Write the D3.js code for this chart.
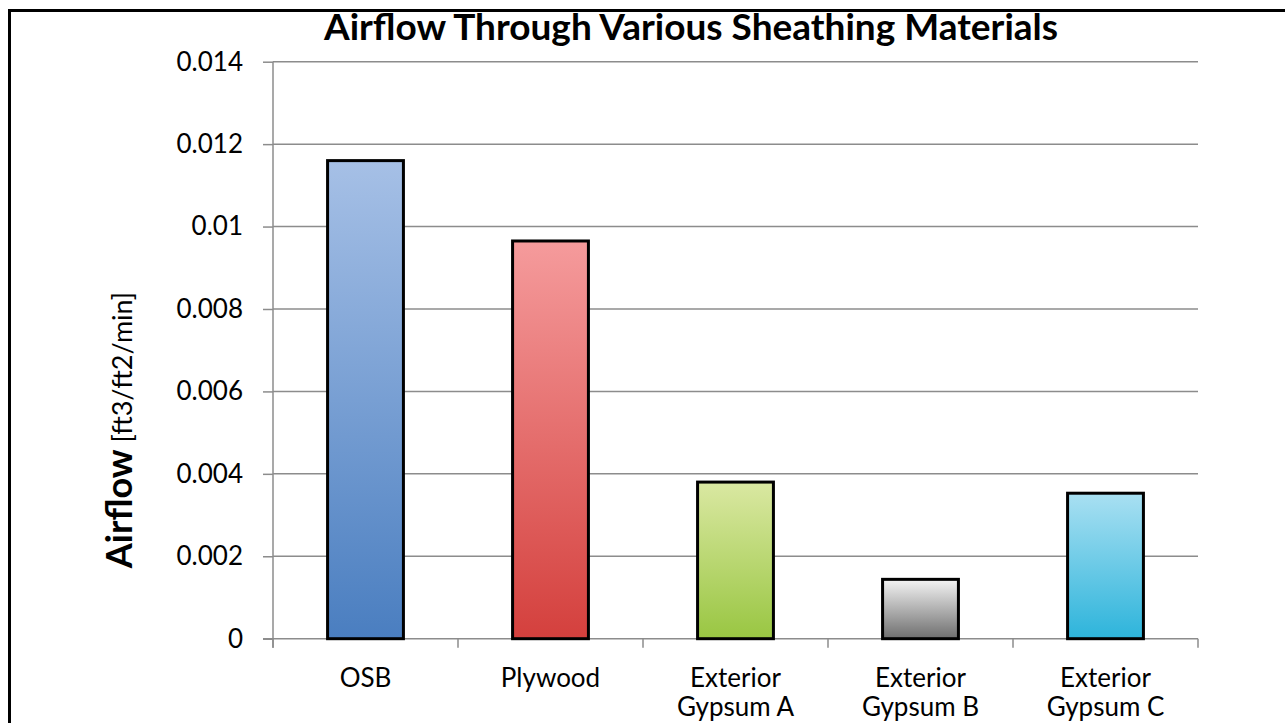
<!DOCTYPE html>
<html>
<head>
<meta charset="utf-8">
<script src="https://cdn.jsdelivr.net/npm/d3@7"></script>
<style>
  body { margin: 0; background: #fff; }
  svg { display: block; font-family: Lato, "Open Sans", sans-serif; }
</style>
</head>
<body>
<div class="chart"></div>
<script>
// chart data
var categories = ["OSB", "Plywood", "Exterior Gypsum A", "Exterior Gypsum B", "Exterior Gypsum C"];
var airflow = [0.0116, 0.00965, 0.0038, 0.00144, 0.00353];
var yTicks = [0, 0.002, 0.004, 0.006, 0.008, 0.01, 0.012, 0.014];
var gradTop = ["#a6c0e6", "#f59b9c", "#dae8a2", "#f4f4f4", "#a9e0f2"];
var gradBottom = ["#4a7ec0", "#d4403d", "#99c642", "#6e6e6e", "#2db4db"];

var svgWidth = 1285;
var svgHeight = 723;
var margin = { top: 61.7, right: 87, bottom: 84.3, left: 273 };
var width = svgWidth - margin.left - margin.right;
var height = svgHeight - margin.top - margin.bottom;

var svg = d3.select(".chart")
  .append("svg")
  .attr("width", svgWidth)
  .attr("height", svgHeight);

// outer frame
svg.append("rect")
  .attr("x", 9.5).attr("y", 10.5)
  .attr("width", 1300).attr("height", 740)
  .attr("fill", "none")
  .attr("stroke", "#000")
  .attr("stroke-width", 3);

var defs = svg.append("defs");
categories.forEach(function(c, i) {
  var g = defs.append("linearGradient")
    .attr("id", "grad" + i)
    .attr("x1", 0).attr("y1", 0).attr("x2", 0).attr("y2", 1);
  g.append("stop").attr("offset", "0%").attr("stop-color", gradTop[i]);
  g.append("stop").attr("offset", "100%").attr("stop-color", gradBottom[i]);
});

var chart = svg.append("g")
  .attr("transform", `translate(${margin.left}, ${margin.top})`);

var xScale = d3.scaleBand().domain(categories).range([0, width]).paddingInner(0.59).paddingOuter(0.295);
var yScale = d3.scaleLinear().domain([0, 0.014]).range([height, 0]);

// gridlines
chart.append("g")
  .selectAll("line")
  .data(yTicks.slice(1))
  .enter().append("line")
  .attr("x1", 0).attr("x2", width)
  .attr("y1", function(d) { return yScale(d); })
  .attr("y2", function(d) { return yScale(d); })
  .attr("stroke", "#8c8c8c")
  .attr("stroke-width", 1.5);

// y axis
var leftAxis = d3.axisLeft(yScale)
  .tickValues(yTicks)
  .tickSize(10)
  .tickPadding(20)
  .tickFormat(function(d) { return d === 0 ? "0" : String(+d.toFixed(3)); });

var yAxis = chart.append("g").attr("class", "y-axis").call(leftAxis);
yAxis.select(".domain").remove();
yAxis.append("line").attr("x1", 0).attr("x2", 0).attr("y1", 0).attr("y2", height + 9)
  .attr("stroke", "#8c8c8c").attr("stroke-width", 1.5);
yAxis.selectAll(".tick line").attr("stroke", "#8c8c8c").attr("stroke-width", 1.5);
yAxis.selectAll(".tick text")
  .attr("fill", "#000")
  .style("font-size", "26px")
  .style("font-family", "Lato, sans-serif");

// x axis baseline + category separators
var bottom = chart.append("g").attr("transform", `translate(0, ${height})`);
bottom.append("line").attr("x1", -10).attr("x2", width).attr("y1", 0).attr("y2", 0)
  .attr("stroke", "#8c8c8c").attr("stroke-width", 1.5);
var step = xScale.step();
bottom.selectAll(".sep")
  .data(d3.range(categories.length + 1))
  .enter().append("line")
  .attr("class", "sep")
  .attr("x1", function(d) { return xScale(categories[0]) - xScale.paddingOuter() * step + d * step; })
  .attr("x2", function(d) { return xScale(categories[0]) - xScale.paddingOuter() * step + d * step; })
  .attr("y1", 0).attr("y2", 9)
  .attr("stroke", "#8c8c8c").attr("stroke-width", 1.5);

// category labels
bottom.selectAll(".cat")
  .data(categories)
  .enter().append("text")
  .attr("class", "cat")
  .attr("text-anchor", "middle")
  .style("font-size", "26px")
  .each(function(d) {
    var words = d.indexOf("Exterior") === 0 ? ["Exterior", d.replace("Exterior ", "")] : [d];
    var t = d3.select(this);
    words.forEach(function(w, j) {
      t.append("tspan")
        .attr("x", xScale(d) + xScale.bandwidth() / 2)
        .attr("y", 48 + j * 29)
        .text(w);
    });
  });

// bars
chart.selectAll(".bar")
  .data(airflow)
  .enter().append("rect")
  .attr("class", "bar")
  .attr("x", function(d, i) { return xScale(categories[i]); })
  .attr("y", function(d) { return yScale(d); })
  .attr("width", xScale.bandwidth())
  .attr("height", function(d) { return height - yScale(d); })
  .attr("fill", function(d, i) { return "url(#grad" + i + ")"; })
  .attr("stroke", "#000")
  .attr("stroke-width", 3);

// title
svg.append("text")
  .attr("x", 691)
  .attr("y", 40)
  .attr("text-anchor", "middle")
  .style("font-size", "37px")
  .style("font-weight", "bold")
  .text("Airflow Through Various Sheathing Materials");

// y label
var yl = svg.append("text")
  .attr("transform", "translate(132, 430) rotate(-90)")
  .attr("text-anchor", "middle");
yl.append("tspan").style("font-size", "36px").style("font-weight", "bold").text("Airflow");
yl.append("tspan").style("font-size", "27px").text(" [ft3/ft2/min]");
</script>
</body>
</html>
